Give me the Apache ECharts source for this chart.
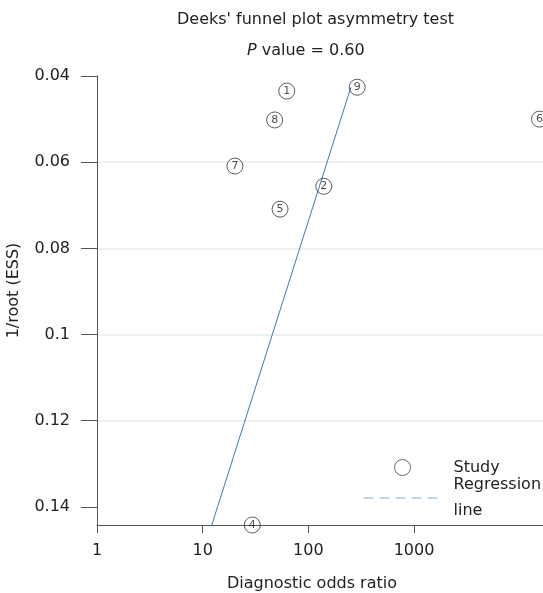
<!DOCTYPE html>
<html>
<head>
<meta charset="utf-8">
<script src="https://cdn.jsdelivr.net/npm/echarts@6/dist/echarts.min.js"></script>
<style>
  html, body { margin: 0; padding: 0; background: #fff; }
  #main { width: 543px; height: 593px; }
</style>
</head>
<body>
<div id="main"></div>
<script>
    // studies: id, diagnostic odds ratio, 1/root(ESS)
    var studyIds = ['1', '2', '4', '5', '6', '7', '8', '9'];
    var studyDor = [62.5, 140, 29.5, 54, 15400, 20.2, 48, 290];
    var studyEss = [0.0435, 0.0656, 0.1442, 0.0709, 0.0500, 0.0609, 0.0502, 0.0426];

    // regression line end points
    var regDor = [12.2, 253];
    var regEss = [0.1442, 0.0426];

    var xTicks = [1, 10, 100, 1000];
    var yTicks = [0.04, 0.06, 0.08, 0.1, 0.12, 0.14];

    var font = 'DejaVu Sans';
    var ink = '#222';

    var studyData = studyIds.map(function (id, i) {
        return { name: id, value: [studyDor[i], studyEss[i]] };
    });
    var regData = regDor.map(function (d, i) { return [d, regEss[i]]; });

    var option = {
        backgroundColor: '#fff',
        animation: false,
        title: [
            {
                text: "Deeks' funnel plot asymmetry test",
                left: 177, top: 12,
                padding: 0,
                textStyle: { fontFamily: font, fontSize: 16, fontWeight: 'normal', color: ink }
            },
            {
                text: '{i|P} value = 0.60',
                left: 247, top: 43,
                padding: 0,
                textStyle: {
                    fontFamily: font, fontSize: 16, fontWeight: 'normal', color: ink,
                    rich: { i: { fontFamily: font, fontSize: 16, fontStyle: 'italic', color: ink } }
                }
            }
        ],
        legend: [
            {
                data: ['Study'],
                left: 394, top: 459,
                padding: 0,
                orient: 'vertical',
                selectedMode: false,
                icon: 'circle',
                itemWidth: 16, itemHeight: 16,
                itemStyle: { color: 'transparent', borderColor: '#444', borderWidth: 1 },
                textStyle: { fontFamily: font, fontSize: 16, color: ink, padding: [0, 0, 0, 38] }
            },
            {
                data: ['Regression line'],
                left: 363, top: 472,
                padding: 0,
                orient: 'vertical',
                selectedMode: false,
                itemWidth: 77, itemHeight: 14,
                itemStyle: { opacity: 0 },
                lineStyle: { color: '#7eaed3', width: 1, type: [10, 6] },
                formatter: function () { return 'Regression\nline'; },
                textStyle: { fontFamily: font, fontSize: 16, color: ink, lineHeight: 26, padding: [0, 0, 0, 8] }
            }
        ],
        grid: { left: 97, right: 0, top: 76, bottom: 68, outerBoundsMode: 'none' },
        xAxis: {
            type: 'log',
            logBase: 10,
            min: 1,
            max: 16634,
            name: 'Diagnostic odds ratio',
            nameLocation: 'middle',
            nameGap: 51,
            nameTextStyle: { fontFamily: font, fontSize: 16, color: ink, padding: [0, 16, 0, 0] },
            axisLine: { lineStyle: { color: '#555', width: 1 } },
            axisTick: { show: true, length: 8, lineStyle: { color: '#555' }, customValues: xTicks },
            axisLabel: {
                fontFamily: font, fontSize: 16, color: ink, margin: 18,
                customValues: xTicks,
                formatter: function (v) { return String(Math.round(v)); }
            },
            splitLine: { show: false },
            minorTick: { show: false }
        },
        yAxis: {
            type: 'value',
            inverse: true,
            min: 0.04,
            max: 0.1442,
            interval: 0.02,
            name: '1/root (ESS)',
            nameLocation: 'middle',
            nameRotate: 90,
            nameGap: 75,
            nameTextStyle: { fontFamily: font, fontSize: 16, color: ink, padding: [0, 0, 0, 20] },
            axisLine: { show: true, lineStyle: { color: '#555', width: 1 } },
            axisTick: { show: true, length: 16, lineStyle: { color: '#555' }, customValues: yTicks },
            axisLabel: {
                fontFamily: font, fontSize: 16, color: ink, margin: 27,
                customValues: yTicks,
                formatter: function (v) { return String(parseFloat(v.toFixed(2))); }
            },
            splitLine: {
                show: true,
                showMinLine: false,
                showMaxLine: false,
                lineStyle: { color: '#e6edf1', width: 1.5 }
            }
        },
        series: [
            {
                name: 'Study',
                type: 'scatter',
                clip: false,
                data: studyData,
                symbol: 'circle',
                symbolSize: 16,
                itemStyle: { color: 'rgba(255,255,255,0)', borderColor: '#333', borderWidth: 1 },
                label: {
                    show: true,
                    position: 'inside',
                    formatter: function (p) { return p.name; },
                    fontFamily: font, fontSize: 11, color: ink
                },
                z: 3
            },
            {
                name: 'Regression line',
                type: 'line',
                data: regData,
                symbol: 'none',
                showSymbol: false,
                clip: false,
                lineStyle: { color: '#3a7db5', width: 1 },
                itemStyle: { color: '#7eaed3' },
                z: 2
            }
        ]
    };

    var myChart = echarts.init(document.getElementById('main'));
    myChart.setOption(option);
</script>
</body>
</html>
